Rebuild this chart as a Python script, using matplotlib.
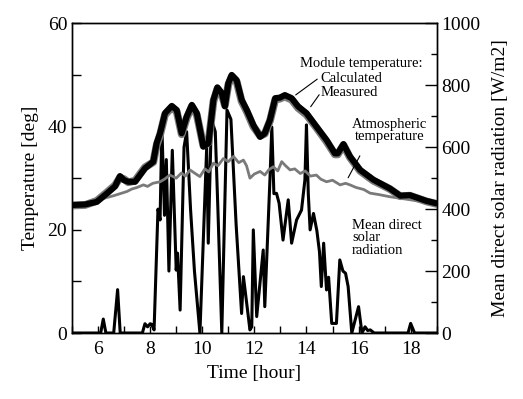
import matplotlib
matplotlib.use("Agg")
import matplotlib.pyplot as plt
from matplotlib.ticker import MultipleLocator

plt.rcParams["font.family"] = ["Liberation Serif", "DejaVu Serif"]
plt.rcParams["mathtext.fontset"] = "stix"

# Module temperature (calculated / measured) [deg]
module_time = [5.0, 5.5, 5.95, 6.33, 6.65, 6.84, 7.0, 7.16, 7.42, 7.8, 8.12, 8.25, 8.38,
               8.57, 8.83, 9.02, 9.21, 9.4, 9.6, 9.79, 10.04, 10.24, 10.43, 10.58, 10.75,
               10.87, 11.0, 11.13, 11.32, 11.51, 11.71, 11.96, 12.22, 12.4, 12.6, 12.8,
               12.98, 13.17, 13.43, 13.68, 14.0, 14.38, 14.77, 15.09, 15.2, 15.42, 15.67,
               16.06, 16.57, 17.2, 17.6, 17.97, 18.6, 19.0]
module_calc = [24.8, 24.9, 25.4, 27.0, 28.4, 30.4, 29.6, 29.3, 29.3, 31.9, 33.2, 36.8, 38.7,
               42.6, 44.0, 43.2, 38.7, 41.9, 44.2, 42.6, 36.1, 36.8, 45.2, 47.6, 46.5,
               43.9, 48.4, 50.0, 49.0, 45.2, 43.2, 40.3, 38.0, 38.7, 41.3, 45.5,
               45.6, 46.1, 45.5, 43.9, 42.6, 40.0, 37.4, 34.8, 34.8, 36.6, 34.2,
               31.6, 29.7, 28.0, 26.6, 26.7, 25.6, 25.1]
module_meas = [24.7, 24.8, 25.6, 27.2, 28.6, 30.1, 29.8, 29.2, 29.5, 32.1, 33.1, 36.4, 38.4,
               42.3, 43.7, 42.9, 38.5, 41.6, 43.9, 42.3, 36.3, 36.9, 44.9, 47.3, 46.2,
               44.1, 48.1, 49.7, 48.7, 44.9, 42.9, 40.0, 38.2, 38.6, 41.1, 45.2,
               45.4, 45.8, 45.2, 43.6, 42.3, 39.8, 37.1, 34.6, 34.6, 36.4, 34.0,
               31.4, 29.5, 27.9, 26.5, 26.6, 25.5, 25.0]

# Atmospheric temperature [deg]
atm_time = [5.0, 5.5, 5.95, 6.3, 6.6, 6.85, 7.1, 7.3, 7.5, 7.74, 7.9, 8.1, 8.38, 8.55,
            8.76, 9.0, 9.2, 9.35, 9.53, 9.7, 9.91, 10.1, 10.25, 10.43, 10.6, 10.81, 11.0,
            11.2, 11.4, 11.58, 11.7, 11.83, 12.0, 12.22, 12.4, 12.55, 12.73, 12.9, 13.05,
            13.2, 13.37, 13.55, 13.76, 13.95, 14.15, 14.38, 14.55, 14.77, 15.0, 15.29,
            15.5, 15.67, 15.9, 16.2, 16.44, 16.8, 17.2, 17.6, 18.0, 18.5, 19.0]
atm_temp = [24.6, 24.8, 25.6, 26.2, 26.6, 27.0, 27.4, 27.9, 28.2, 28.7, 28.4, 29.0, 29.3, 29.8,
            30.6, 30.0, 31.0, 30.4, 31.6, 31.0, 30.3, 31.8, 31.2, 32.9, 32.4, 33.8, 33.2,
            34.2, 33.0, 33.5, 32.4, 30.0, 30.8, 31.3, 30.6, 31.6, 32.2, 31.4, 33.2,
            32.4, 31.6, 31.8, 30.9, 31.4, 30.4, 30.6, 29.8, 29.3, 29.6, 28.7,
            29.0, 28.7, 28.2, 27.8, 27.1, 26.8, 26.4, 26.1, 25.8, 25.4, 25.1]

# Mean direct solar radiation [W/m2]
rad_time = [5.0, 6.0, 6.1, 6.2, 6.3, 6.6, 6.75, 6.85, 7.5, 7.7, 7.8, 7.9, 8.0, 8.06, 8.15,
            8.3, 8.38, 8.45, 8.55, 8.62, 8.72, 8.85, 9.0, 9.05, 9.15, 9.3, 9.4, 9.55, 9.7,
            9.91, 10.17, 10.23, 10.35, 10.5, 10.6, 10.75, 10.95, 11.1, 11.3, 11.51, 11.58,
            11.7, 11.83, 11.9, 11.96, 12.09, 12.34, 12.4, 12.6, 12.67, 12.75, 12.85, 12.95,
            13.1, 13.3, 13.43, 13.62, 13.81, 13.94, 14.0, 14.07, 14.14, 14.27, 14.4, 14.5,
            14.57, 14.66, 14.77, 14.85, 14.97, 15.15, 15.28, 15.4, 15.5, 15.6, 15.74, 16.0,
            16.13, 16.25, 16.35, 16.45, 16.6, 17.1, 17.9, 18.0, 18.15, 19.0]
rad_value = [0, 0, 0, 45, 0, 0, 140, 0, 0, 0, 30, 20, 30, 28, 10,
             400, 365, 665, 380, 560, 200, 590, 203, 258, 74, 600, 650, 400, 200,
             0, 600, 290, 690, 650, 400, 0, 720, 690, 350, 63, 182,
             100, 10, 20, 333, 53, 268, 85, 500, 665, 450, 451, 419,
             300, 430, 290, 365, 397, 494, 672, 450, 333, 386, 330, 262,
             150, 290, 139, 180, 31, 31, 236, 200, 193, 150, 0, 85,
             0, 20, 8, 10, 0, 0, 0, 31, 0, 0]

fig = plt.figure(figsize=(5.23, 3.99), dpi=100)
ax1 = fig.add_axes([0.1377, 0.1654, 0.6973, 0.7762])
ax2 = ax1.twinx()
ax1.set_zorder(2)
ax2.set_zorder(1)
ax1.patch.set_visible(False)

gray = "#7a7a7a"
ax2.plot(rad_time, rad_value, color="black", lw=2.2, solid_joinstyle="round")
ax1.plot(atm_time, atm_temp, color=gray, lw=2.0)
ax1.plot(module_time, module_meas, color=gray, lw=5.6, solid_capstyle="round",
         solid_joinstyle="round")
ax1.plot(module_time, module_calc, color="black", lw=4.4, solid_capstyle="round",
         solid_joinstyle="round")

ax1.set_xlim(5, 19)
ax1.set_ylim(0, 60)
ax2.set_ylim(0, 1000)

ax1.xaxis.set_major_locator(MultipleLocator(2))
ax1.xaxis.set_minor_locator(MultipleLocator(1))
ax1.yaxis.set_major_locator(MultipleLocator(20))
ax1.yaxis.set_minor_locator(MultipleLocator(10))
ax2.yaxis.set_major_locator(MultipleLocator(200))
ax2.yaxis.set_minor_locator(MultipleLocator(100))

ax1.tick_params(axis="both", which="both", direction="in", labelsize=14, width=1.0)
ax1.tick_params(axis="y", which="both", length=6.5)
ax1.tick_params(axis="x", which="both", length=5)
ax1.tick_params(axis="x", pad=6)
ax2.tick_params(axis="y", which="major", direction="in", length=9, labelsize=14, width=1.0)
ax2.tick_params(axis="y", which="minor", direction="in", length=4, width=1.0)
for ax in (ax1, ax2):
    for s in ax.spines.values():
        s.set_linewidth(1.0)

ax1.set_xlabel("Time [hour]", fontsize=14, labelpad=5)
ax1.set_ylabel("Temperature [deg]", fontsize=14, labelpad=6)
ax2.set_ylabel("Mean direct solar radiation [W/m2]", fontsize=14, labelpad=8)

fs = 10.5
ax1.text(18.45, 52.3, "Module temperature:", fontsize=fs, ha="right", va="center")
ax1.text(14.55, 49.4, "Calculated", fontsize=fs, ha="left", va="center")
ax1.text(14.55, 46.5, "Measured", fontsize=fs, ha="left", va="center")
ax1.annotate("", xy=(13.5, 45.8), xytext=(14.5, 49.5),
             arrowprops=dict(arrowstyle="-", lw=0.8, color="black"))
ax1.annotate("", xy=(14.1, 43.4), xytext=(14.55, 46.6),
             arrowprops=dict(arrowstyle="-", lw=0.8, color="black"))
ax1.text(17.2, 39.2, "Atmospheric\ntemperature", fontsize=fs, ha="center", va="center",
         linespacing=0.95)
ax1.annotate("", xy=(15.55, 29.6), xytext=(16.1, 34.8),
             arrowprops=dict(arrowstyle="-", lw=0.8, color="black"))
ax1.text(15.75, 18.5, "Mean direct\nsolar\nradiation", fontsize=fs, ha="left", va="center",
         linespacing=0.95)

fig.savefig("out.png", dpi=100)
